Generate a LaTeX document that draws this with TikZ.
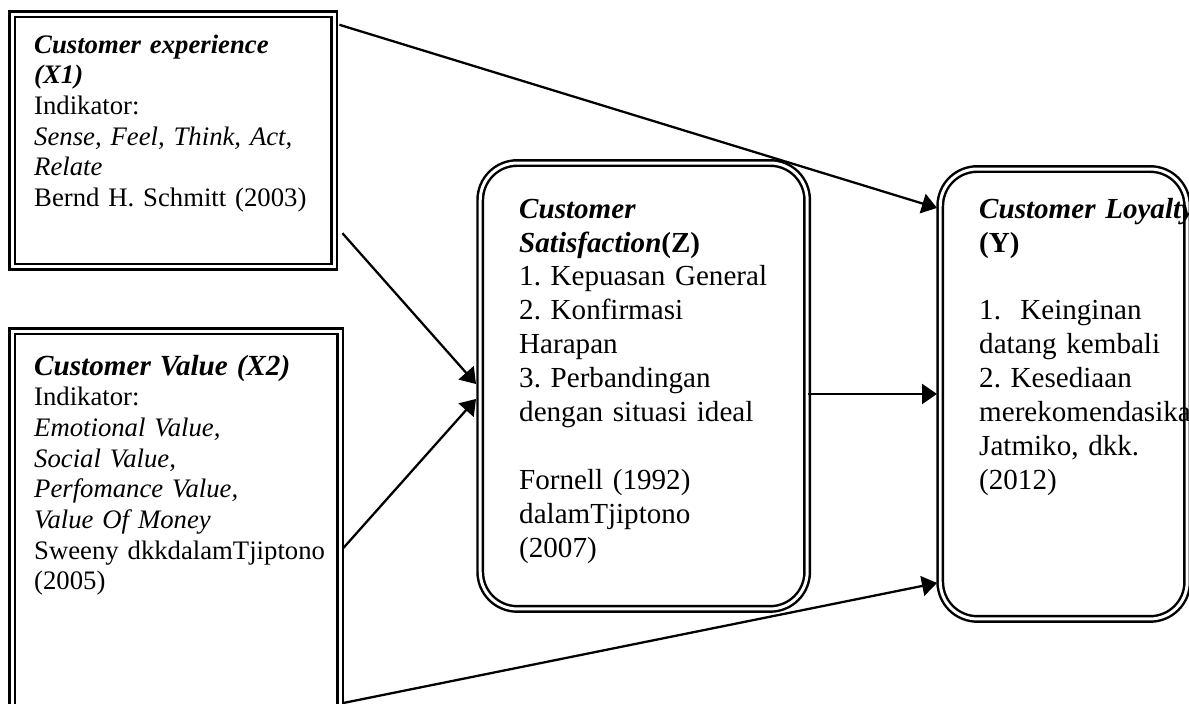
\documentclass[tikz,border=0pt]{standalone}
\usepackage{fontspec}
\setmainfont{Liberation Serif}
\usetikzlibrary{arrows.meta, calc}
\hyphenpenalty=10000
\exhyphenpenalty=10000
\frenchspacing

\begin{document}
\begin{tikzpicture}[x=0.02cm, y=-0.02cm,
    varbox/.style={draw, double, double distance=1.7pt, line width=1.4pt, anchor=base west, align=left, inner ysep=0pt},
    sidebox/.style={varbox, inner xsep=0.44cm, font=\fontsize{15.2}{17.47}\selectfont},
    roundbox/.style={varbox, rounded corners=0.74cm, inner xsep=0.78cm, font=\fontsize{16.55}{19.35}\selectfont},
    link/.style={line width=1.3pt, -{Triangle[length=0.3cm, width=0.4cm]}}]
\useasboundingbox (0,0) rectangle (1189,703);
\clip (0,0) rectangle (1189,703);

%% X1
\node[sidebox, text width=5.56cm, text height=0.78cm, text depth=4.28cm] at (11, 53) (xone)
    {\textbf{\textit{Customer experience}}\\
     \textbf{\textit{(X1)}}\\
     Indikator:\\
     \textit{Sense, Feel, Think, Act,}\\
     \textit{Relate}\\
     Bernd H. Schmitt (2003)};

%% X2
\node[sidebox, text width=5.68cm, text height=0.88cm, text depth=6.74cm] at (11, 375) (xtwo)
    {{\fontsize{16.6}{17.47}\selectfont\textbf{\textit{Customer Value (X2)}}}\\
     Indikator:\\
     \textit{Emotional Value,}\\
     \textit{Social Value,}\\
     \textit{Perfomance Value,}\\
     \textit{Value Of Money}\\
     Sweeny~dkkdalamTjiptono\\
     (2005)};

%% Z
\node[roundbox, text width=4.98cm, text height=1.1cm, text depth=7.82cm] at (479, 218) (satis)
    {\textbf{\textit{Customer}}\\
     \textbf{\textit{Satisfaction}(Z)}\\
     1. Kepuasan General\\
     2. Konfirmasi\\
     Harapan\\
     3. Perbandingan\\
     dengan situasi ideal\\[19.35pt]
     Fornell (1992)\\
     dalamTjiptono\\
     (2007)};

%% Y
\node[roundbox, text width=3.38cm, text height=0.98cm, text depth=8.02cm] at (939, 218) (loyal)
    {\textbf{\textit{Customer~Loyalty}}\\
     \textbf{(Y)}\\[19.35pt]
     1.\ \ Keinginan\\
     datang~kembali\\
     2. Kesediaan\\
     merekomendasikan\\
     Jatmiko, dkk.\\
     (2012)};

%% X1 -> Y, X1 -> Z
\draw[link] ([shift={(4,12)}]xone.north east) -- ([shift={(-2,-186)}]loyal.west);
\draw[link] ([shift={(7,-35)}]xone.south east) -- ([shift={(-3,-2)}]satis.west);

%% X2 -> Z, X2 -> Y
\draw[link] ([shift={(2,26.5)}]xtwo.east) -- ([shift={(-3,13)}]satis.west);
\draw[link] ([shift={(1,-10)}]xtwo.south east) -- ([shift={(-2,189)}]loyal.west);

%% Z -> Y
\draw[link] (satis.east |- loyal.west) -- ([shift={(-2,0)}]loyal.west);

\end{tikzpicture}
\end{document}
